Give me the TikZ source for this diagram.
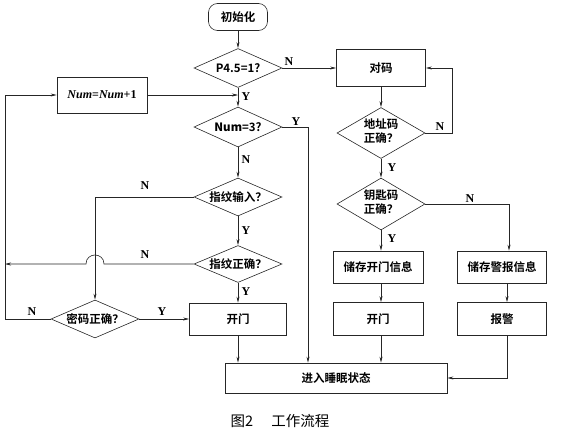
\documentclass[tikz,border=0pt]{standalone}
\usepackage{fontspec}
\setmainfont{Liberation Serif}
\newfontfamily\cjk{Noto Sans CJK SC}[BoldFont={Noto Sans CJK SC Bold}]
\usetikzlibrary{shapes.geometric,arrows.meta}
\newcommand\dtext[1]{\makebox[0pt]{\raisebox{-0.25em}[0pt][0pt]{$\vcenter{\hbox{#1}}$}}}
\begin{document}
\begin{tikzpicture}[x=1pt,y=-1pt,
  line width=0.6pt, draw=black!85,
  arr/.style={-{Stealth[length=6pt,width=3pt]}},
  box/.style={draw, rectangle, inner sep=0pt, font=\cjk\bfseries\fontsize{11.5}{13}\selectfont},
  dia/.style={draw, diamond, inner sep=0pt, font=\cjk\bfseries\fontsize{11.5}{14}\selectfont},
  lab/.style={font=\bfseries\fontsize{12}{12}\selectfont, inner sep=0pt}]
\useasboundingbox (0,0) rectangle (562,431);
% nodes
\node[box, rounded corners=9pt, minimum width=59pt, minimum height=27pt] (init) at (238,17) {初始化};
\node[dia, minimum width=88pt, minimum height=39pt] (d1) at (238,68) {\dtext{\bfseries P4.5=1?}};
\node[box, minimum width=89pt, minimum height=37pt] (duima) at (381,68) {对码};
\node[box, minimum width=90pt, minimum height=36pt, font=\bfseries\fontsize{12}{13}\selectfont] (num) at (102,95) {\textit{Num}=\textit{Num}+1};
\node[dia, minimum width=88pt, minimum height=40pt] (d2) at (238,127) {\dtext{\bfseries\textit{Num}=3?}};
\node[dia, minimum width=88pt, minimum height=38pt] (d3) at (238,197) {\dtext{指纹输入？}};
\node[dia, minimum width=88pt, minimum height=37pt] (d4) at (238,264) {\dtext{指纹正确？}};
\node[box, minimum width=97pt, minimum height=32pt] (open1) at (238,319) {开门};
\node[dia, minimum width=88pt, minimum height=38pt] (d5) at (95,319) {\dtext{密码正确？}};
\node[box, minimum width=222pt, minimum height=30pt] (sleep) at (336,378) {进入睡眠状态};
\node[dia, minimum width=88pt, minimum height=51pt] (d6) at (381,133) {\dtext{\begin{tabular}{@{}l@{}}地址码\\正确？\end{tabular}}};
\node[dia, minimum width=88pt, minimum height=52pt] (d7) at (381,204) {\dtext{\begin{tabular}{@{}l@{}}钥匙码\\正确？\end{tabular}}};
\node[box, minimum width=90pt, minimum height=32pt] (store1) at (378,267) {储存开门信息};
\node[box, minimum width=90pt, minimum height=33pt] (open2) at (378,319) {开门};
\node[box, minimum width=89pt, minimum height=32pt] (store2) at (502,267) {储存警报信息};
\node[box, minimum width=89pt, minimum height=33pt] (alarm) at (502,319) {报警};
\node[font=\cjk\fontsize{14.5}{15}\selectfont, inner sep=0pt] (cap) at (280,421) {图2\hspace{18pt}工作流程};
% coordinates
\coordinate (L) at (5,319);
\coordinate (J) at (5,264);
% labels
\node[lab] (n1) at (289,62) {N};
\node[lab] (y1) at (246,97) {Y};
\node[lab] (y2) at (296,122) {Y};
\node[lab] (n2) at (246,160) {N};
\node[lab] (n3) at (145,186) {N};
\node[lab] (y3) at (246,231) {Y};
\node[lab] (n4) at (145,255) {N};
\node[lab] (y4) at (246,292) {Y};
\node[lab] (n5) at (32,312) {N};
\node[lab] (y5) at (162,312) {Y};
\node[lab] (n6) at (440,127) {N};
\node[lab] (y6) at (392,168) {Y};
\node[lab] (n7) at (470,199) {N};
\node[lab] (y7) at (392,239) {Y};
% connectors
\draw[arr] (init) -- (d1);
\draw[arr] (d1) -- (d2);
\draw[arr] (d1.east) -- (duima.west);
\draw[arr] (num.east) -- (num.east -| d1.south);
\draw[arr] (d2) -- (d3);
\draw[arr] (d2.east) -| ([xshift=-28pt]sleep.north);
\draw[arr] (d3) -- (d4);
\draw[arr] (d3.west) -| (d5.north);
\draw[arr] (d4) -- (open1);
\draw[arr] (d4.west) -- (104,264) .. controls (104,252) and (86,252) .. (86,264) -- (J);
\draw[arr] (d5.west) -- (L) |- (num.west);
\draw[arr] (d5.east) -- (open1.west);
\draw[arr] (open1.south) -- (open1.south |- sleep.north);
\draw[arr] (duima.south -| d6.north) -- (d6.north);
\draw[arr] (d6.east) -- ++(27,0) |- (duima.east);
\draw[arr] (d6) -- (d7);
\draw[arr] (d7.south) -- (d7.south |- store1.north);
\draw[arr] (d7.east) -| ([xshift=7pt]store2.north);
\draw[arr] (store1.south -| d7.south) -- (open2.north -| d7.south);
\draw[arr] (open2.south -| d7.south) -- (sleep.north -| d7.south);
\draw[arr] ([xshift=5pt]store2.south) -- ([xshift=5pt]alarm.north);
\draw[arr] ([xshift=5pt]alarm.south) |- (sleep.east);
\end{tikzpicture}
\end{document}
